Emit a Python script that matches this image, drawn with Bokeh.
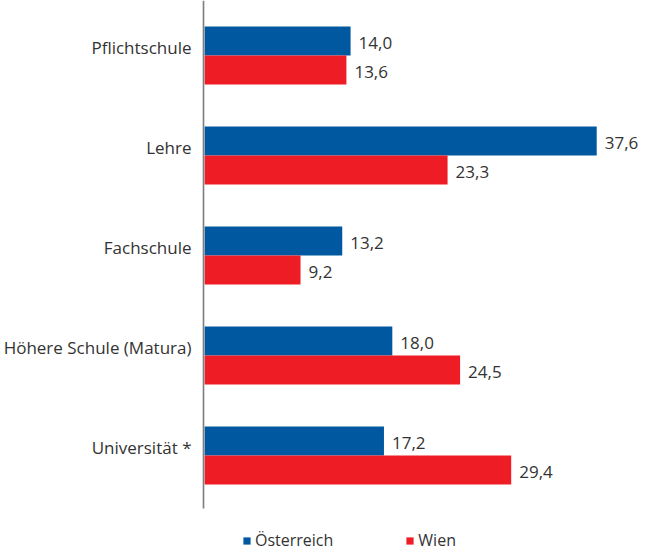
from bokeh.plotting import figure
from bokeh.models import Range1d, FixedTicker, Legend, LegendItem, ColumnDataSource
from bokeh.core.properties import value
from bokeh.embed import file_html
from bokeh.resources import INLINE

categories = ["Pflichtschule", "Lehre", "Fachschule", "Höhere Schule (Matura)", "Universität *"]
oesterreich = [14.0, 37.6, 13.2, 18.0, 17.2]
wien = [13.6, 23.3, 9.2, 24.5, 29.4]

BLUE = "#0058A0"
RED = "#EE1D25"
TEXT = "#333333"
FONT = "Open Sans"

n = len(categories)
pos = [n - 1 - i for i in range(n)]
bar_h = 0.29

def fmt(v):
    return f"{v:.1f}".replace(".", ",")

src_o = ColumnDataSource(dict(y=[p_ + bar_h / 2 for p_ in pos], v=oesterreich, lab=[fmt(v) for v in oesterreich]))
src_w = ColumnDataSource(dict(y=[p_ - bar_h / 2 for p_ in pos], v=wien, lab=[fmt(v) for v in wien]))

p = figure(width=646, height=552, output_backend="svg", toolbar_location=None,
           x_range=Range1d(-0.2, 41.99), y_range=Range1d(-0.97, 4.55),
           min_border_left=202, min_border_right=4, min_border_top=0, min_border_bottom=0)
p.xaxis.visible = False
p.grid.visible = False
p.outline_line_color = None

r_o = p.hbar(y="y", left=0, right="v", height=bar_h, source=src_o, fill_color=BLUE, line_color=None)
r_w = p.hbar(y="y", left=0, right="v", height=bar_h, source=src_w, fill_color=RED, line_color=None)

for src in (src_o, src_w):
    p.text(x="v", y="y", text="lab", source=src, x_offset=8, y_offset=2, text_baseline="middle",
           text_align="left", text_color=TEXT, text_font=value(FONT), text_font_size="17px")

# axis line
p.segment(x0=[-0.12], y0=[-0.53], x1=[-0.12], y1=[4.55], line_color="#808080", line_width=2)

yax = p.yaxis[0]
yax.ticker = FixedTicker(ticks=[p_ + 0.08 for p_ in pos])
yax.major_label_overrides = {p_ + 0.08: c for p_, c in zip(pos, categories)}
yax.axis_line_color = None
yax.major_tick_line_color = None
yax.minor_tick_line_color = None
yax.major_tick_out = 0
yax.major_tick_in = 0
yax.major_label_standoff = 11
yax.major_label_text_font = FONT
yax.major_label_text_font_size = "17px"
yax.major_label_text_color = TEXT

legend = Legend(items=[LegendItem(label="Österreich", renderers=[r_o]),
                       LegendItem(label="Wien", renderers=[r_w])],
                orientation="horizontal", location=(40, 1),
                glyph_width=9, glyph_height=9, label_standoff=4, spacing=72,
                padding=0, margin=0, border_line_color=None, background_fill_alpha=0,
                label_text_font=FONT, label_text_font_size="16px", label_text_color=TEXT)
p.add_layout(legend)

open("out.html", "w").write(file_html(p, INLINE))
